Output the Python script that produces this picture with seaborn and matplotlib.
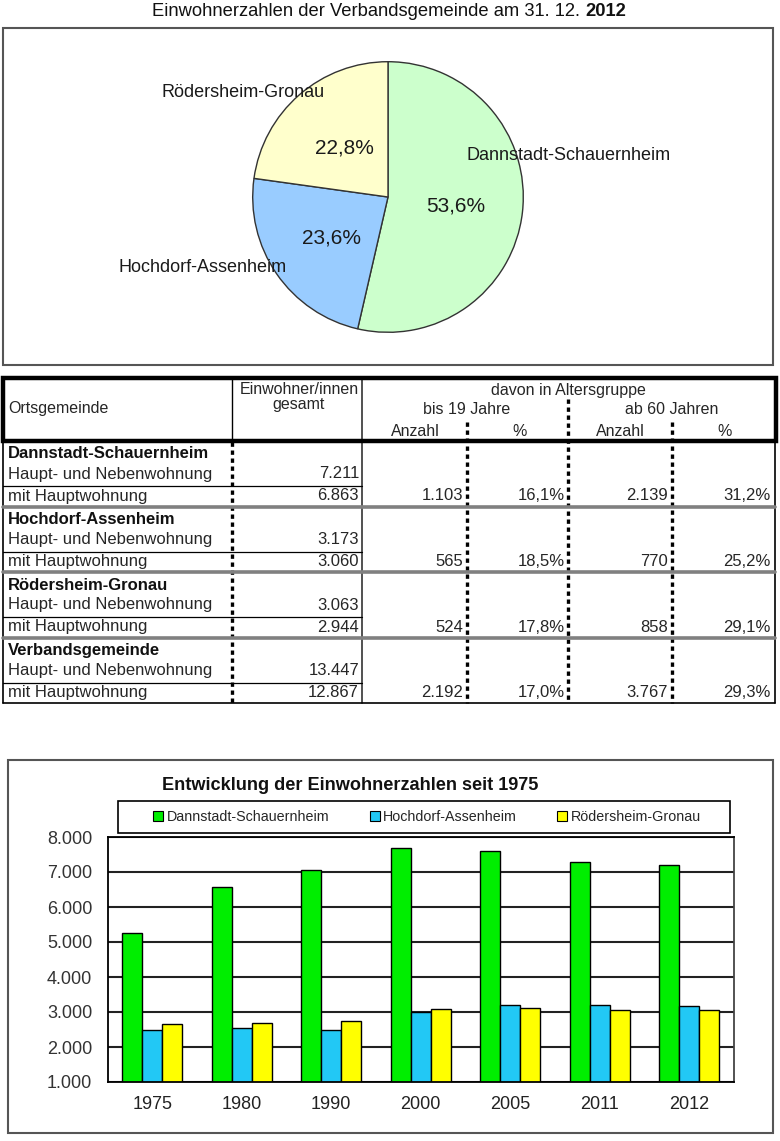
# %%
# Bibliotheken
import pandas as pd
import matplotlib
matplotlib.use("Agg")
import matplotlib.pyplot as plt
from matplotlib.patches import Rectangle, Patch
import seaborn as sns

sns.set_style("white")
plt.rcParams["font.family"] = ["Liberation Sans", "DejaVu Sans"]

# %%
# Daten
# Kreisdiagramm 31.12.2012
pie_namen = ["Dannstadt-Schauernheim", "Hochdorf-Assenheim", "Rödersheim-Gronau"]
pie_anteile = [53.6, 23.6, 22.8]
pie_farben = ["#ccffcc", "#99ccff", "#ffffcc"]

# Tabelle
gemeinden = ["Dannstadt-Schauernheim", "Hochdorf-Assenheim", "Rödersheim-Gronau", "Verbandsgemeinde"]
haupt_neben = [7211, 3173, 3063, 13447]
haupt = [6863, 3060, 2944, 12867]
bis19_anzahl = [1103, 565, 524, 2192]
bis19_pct = [16.1, 18.5, 17.8, 17.0]
ab60_anzahl = [2139, 770, 858, 3767]
ab60_pct = [31.2, 25.2, 29.1, 29.3]

# Balkendiagramm seit 1975
jahre = ["1975", "1980", "1990", "2000", "2005", "2011", "2012"]
dannstadt = [5250, 6580, 7050, 7680, 7610, 7280, 7211]
hochdorf = [2480, 2530, 2480, 3000, 3195, 3195, 3173]
roedersheim = [2655, 2690, 2730, 3080, 3120, 3045, 3063]
bar_farben = ["#00ee00", "#22c8f5", "#ffff00"]

df = pd.DataFrame({
    "Jahr": jahre * 3,
    "Gemeinde": [pie_namen[0]] * 7 + [pie_namen[1]] * 7 + [pie_namen[2]] * 7,
    "Einwohner": dannstadt + hochdorf + roedersheim,
})


def de_int(v):
    return f"{v:,}".replace(",", ".")


def de_pct(v):
    return f"{v:.1f}%".replace(".", ",")


# %%
W, H = 780, 1141
fig = plt.figure(figsize=(W / 100, H / 100), dpi=100)
fig.patch.set_facecolor("white")


def frac(x0, y0, x1, y1):
    return [x0 / W, 1 - y1 / H, (x1 - x0) / W, (y1 - y0) / H]


# Overlay in Pixelkoordinaten fuer Rahmen, Titel und Tabelle
tax = fig.add_axes([0, 0, 1, 1], zorder=0)
tax.set_xlim(0, W)
tax.set_ylim(H, 0)
tax.axis("off")

tax.add_patch(Rectangle((3, 28), 770, 337, fill=False, ec="#555555", lw=1.5))
tax.add_patch(Rectangle((8, 760), 765, 373, fill=False, ec="#555555", lw=1.5))

t1 = tax.text(152, 11, "Einwohnerzahlen der Verbandsgemeinde am 31. 12. ",
              ha="left", va="center", size=13.2, color="#111111")
tax.annotate("2012", xy=(1, 0), xycoords=t1, va="bottom", ha="left",
             size=13.2, weight="bold", color="#111111")

# %%
# Kreisdiagramm
pax = fig.add_axes(frac(250, 59, 526, 335), zorder=2)
pax.pie(pie_anteile, colors=pie_farben, startangle=90, counterclock=False,
        wedgeprops=dict(edgecolor="#333333", linewidth=1))
pax.set_xlim(-1.02, 1.02)
pax.set_ylim(-1.02, 1.02)
pax.set_aspect("auto")

txt = dict(color="#1a1a1a", clip_on=False)
pax.text(0.58, 0.31, pie_namen[0], ha="left", va="center", size=13, **txt)
pax.text(-1.37, -0.52, pie_namen[1], ha="center", va="center", size=13, **txt)
pax.text(-1.07, 0.77, pie_namen[2], ha="center", va="center", size=13, **txt)
pax.text(0.50, -0.07, de_pct(pie_anteile[0]), ha="center", va="center", size=15, **txt)
pax.text(-0.42, -0.30, de_pct(pie_anteile[1]), ha="center", va="center", size=15, **txt)
pax.text(-0.32, 0.36, de_pct(pie_anteile[2]), ha="center", va="center", size=15, **txt)

# %%
# Tabelle
hs = 11.5
tax.add_patch(Rectangle((3, 378), 773, 63, fill=False, ec="black", lw=3.2, zorder=3))
tax.text(8, 409, "Ortsgemeinde", ha="left", va="center", size=hs)
tax.text(299, 389, "Einwohner/innen", ha="center", va="center", size=hs)
tax.text(299, 404, "gesamt", ha="center", va="center", size=hs)
tax.text(568, 390, "davon in Altersgruppe", ha="center", va="center", size=hs)
tax.text(467, 410, "bis 19 Jahre", ha="center", va="center", size=hs)
tax.text(672, 410, "ab 60 Jahren", ha="center", va="center", size=hs)
for x, s in [(415, "Anzahl"), (520, "%"), (620, "Anzahl"), (725, "%")]:
    tax.text(x, 431, s, ha="center", va="center", size=hs)

tax.plot([232, 232], [378, 441], color="black", lw=1)
tax.plot([362, 362], [378, 703], color="#333333", lw=1.2)
tax.plot([3, 3], [441, 703], color="black", lw=1.2)
tax.plot([775, 775], [441, 703], color="black", lw=1.2)
tax.plot([3, 775], [703, 703], color="black", lw=1.2)

dash = dict(color="black", lw=2.4, linestyle=(0, (1.3, 1.1)))
tax.plot([232, 232], [442, 703], **dash)
tax.plot([568, 568], [399, 703], **dash)
tax.plot([467, 467], [422, 703], **dash)
tax.plot([672, 672], [422, 703], **dash)

bs = 12
for i, name in enumerate(gemeinden):
    top = 441 + 65.5 * i
    if i > 0:
        tax.plot([3, 775], [top, top], color="#808080", lw=2.6)
    tax.plot([3, 362], [top + 45, top + 45], color="black", lw=0.9)
    tax.text(8, top + 13, name, ha="left", va="center", size=bs, weight="bold", color="#111111")
    tax.text(8, top + 33, "Haupt- und Nebenwohnung", ha="left", va="center", size=bs)
    tax.text(8, top + 55, "mit Hauptwohnung", ha="left", va="center", size=bs)
    tax.text(359, top + 33, de_int(haupt_neben[i]), ha="right", va="center", size=bs)
    tax.text(359, top + 55, de_int(haupt[i]), ha="right", va="center", size=bs)
    tax.text(463, top + 55, de_int(bis19_anzahl[i]), ha="right", va="center", size=bs)
    tax.text(565, top + 55, de_pct(bis19_pct[i]), ha="right", va="center", size=bs)
    tax.text(668, top + 55, de_int(ab60_anzahl[i]), ha="right", va="center", size=bs)
    tax.text(771, top + 55, de_pct(ab60_pct[i]), ha="right", va="center", size=bs)

# %%
# Balkendiagramm
tax.text(350, 785, "Entwicklung der Einwohnerzahlen seit 1975", ha="center", va="center",
         size=13.1, weight="bold", color="#111111")

bax = fig.add_axes(frac(107.5, 837, 734, 1082), zorder=2)
sns.barplot(data=df, x="Jahr", y="Einwohner", hue="Gemeinde", palette=bar_farben,
            width=0.67, edgecolor="black", linewidth=1, errorbar=None,
            saturation=1, legend=False, ax=bax)
bax.set_ylim(1000, 8000)
yt = list(range(1000, 8001, 1000))
bax.set_yticks(yt)
bax.set_yticklabels([de_int(v) for v in yt])
bax.yaxis.grid(True, color="#222222", lw=1.5)
bax.xaxis.grid(False)
bax.set_axisbelow(True)
bax.set_xlim(-0.5, len(jahre) - 0.5)
bax.set_xticks([i - 0.5 for i in range(len(jahre) + 1)], minor=True)
bax.tick_params(axis="x", which="major", length=0, pad=10, labelsize=13, labelcolor="#222222")
bax.tick_params(axis="x", which="minor", length=6, width=1.2, direction="out", color="black")
bax.tick_params(axis="y", length=5, width=1.2, direction="out", color="black", pad=6,
                labelsize=13, labelcolor="#333333")
bax.set_xlabel("")
bax.set_ylabel("")
for sp in bax.spines.values():
    sp.set_visible(True)
    sp.set_color("black")
    sp.set_linewidth(1.3)
bax.spines["right"].set_color("#444444")

# Legendenrahmen und Eintraege
tax.add_patch(Rectangle((118, 801), 612, 32, fill=False, ec="black", lw=1.2))
handles = [Patch(facecolor=c, edgecolor="black", lw=0.8) for c in bar_farben]
fig.legend(handles, pie_namen, loc="center", ncol=3,
           bbox_to_anchor=(427 / W, 1 - 817 / H),
           frameon=False, fontsize=10.3, handlelength=0.7, handleheight=0.7,
           handletextpad=0.25, columnspacing=2.8, borderpad=0)

plt.savefig("out.png", dpi=100)
